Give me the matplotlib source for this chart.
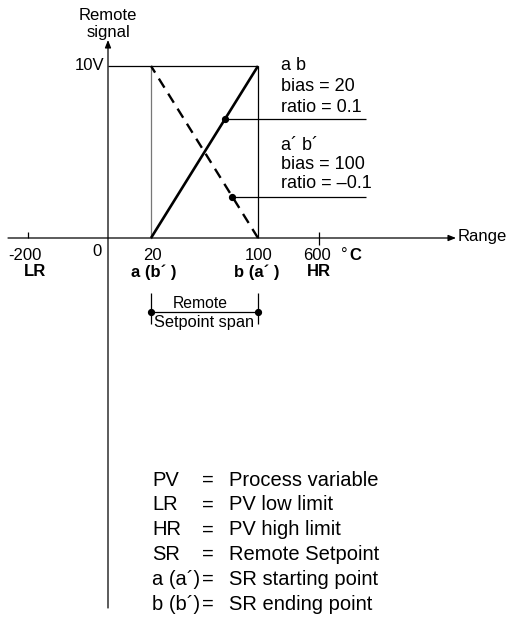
import matplotlib
matplotlib.use("Agg")
import matplotlib.pyplot as plt

plt.rcParams['font.family'] = ['Liberation Sans', 'DejaVu Sans']

# Remote setpoint mapping data
signal_min, signal_max = 0, 10          # remote signal, volts
full_scale = 800                        # signal full scale in counts
bias_ab, ratio_ab = 20, 0.1             # a -> b
bias_ab2, ratio_ab2 = 100, -0.1         # a' -> b'
sp_a, sp_b = 20, 100                    # remote setpoint span (deg C)

range_labels = ["-200", "0", "20", "100", "600"]
range_names = ["LR", "", "a (b\u00b4 )", "b (a\u00b4 )", "HR"]

legend_keys = ["PV", "LR", "HR", "SR", "a (a\u00b4)", "b (b\u00b4)"]
legend_vals = ["Process variable", "PV low limit", "PV high limit",
               "Remote Setpoint", "SR starting point", "SR ending point"]


def setpoint(v, bias, ratio):
    """Remote setpoint for a signal of v volts."""
    return bias + ratio * (v / signal_max) * full_scale


# ---- schematic layout (figure pixel space) ----
W, H = 509, 617
fig = plt.figure(figsize=(W / 100, H / 100), dpi=100)
ax = fig.add_axes([0, 0, 1, 1])
ax.set_xlim(0, W)
ax.set_ylim(H, 0)
ax.axis("off")

x0_axis = 108          # vertical axis position
y0_axis = 238          # horizontal axis position (0 V)
px_per_volt = 17.2
tick_x = [28, 97, 151, 258, 319]
x_of = {lab: x for lab, x in zip(range_labels, tick_x)}


def vy(v):
    return y0_axis - v * px_per_volt


xa, xb = x_of["20"], x_of["100"]


def sp_to_x(sp):
    return xa + (sp - sp_a) / (sp_b - sp_a) * (xb - xa)


k = dict(color="black", lw=0.9, solid_capstyle="butt")

# axes with arrowheads
ax.annotate("", xy=(x0_axis, 40), xytext=(x0_axis, 608),
            arrowprops=dict(arrowstyle="-|>,head_length=0.45,head_width=0.18",
                            color="black", lw=0.9, shrinkA=0, shrinkB=0))
ax.annotate("", xy=(456, y0_axis), xytext=(8, y0_axis),
            arrowprops=dict(arrowstyle="-|>,head_length=0.45,head_width=0.18",
                            color="black", lw=0.9, shrinkA=0, shrinkB=0))

# 10 V level and span verticals
ax.plot([x0_axis, xb], [vy(signal_max), vy(signal_max)], **k)
ax.plot([xa, xa], [vy(signal_min), vy(signal_max)], color="#777777", lw=0.9)
ax.plot([xb, xb], [vy(signal_min), vy(signal_max)], **k)

# a b (solid) and a' b' (dashed) lines
v_pts = [signal_min, signal_max]
ax.plot([sp_to_x(setpoint(v, bias_ab, ratio_ab)) for v in v_pts],
        [vy(v) for v in v_pts],
        color="black", lw=1.9, solid_capstyle="butt")
ax.plot([sp_to_x(setpoint(v, bias_ab2, ratio_ab2)) for v in v_pts],
        [vy(v) for v in v_pts],
        color="black", lw=1.7, dashes=(4.5, 3.0))

# callout leaders
v1 = 6.9
x1 = sp_to_x(setpoint(v1, bias_ab, ratio_ab))
ax.plot([x1, 366], [vy(v1), vy(v1)], **k)
ax.plot(x1, vy(v1), "o", color="black", ms=4.2)
v2 = 2.4
x2 = sp_to_x(setpoint(v2, bias_ab2, ratio_ab2))
ax.plot([x2, 366], [vy(v2), vy(v2)], **k)
ax.plot(x2, vy(v2), "o", color="black", ms=4.2)

# callout texts
fs_ann = 13
ann1 = ["a b", f"bias = {bias_ab}", f"ratio = {ratio_ab}"]
ann2 = ["a\u00b4 b\u00b4", f"bias = {bias_ab2}", f"ratio = \u2013{abs(ratio_ab2)}"]
for i, t in enumerate(ann1):
    ax.text(281, 66 + i * 20.5, t, fontsize=fs_ann, va="center", ha="left")
for i, t in enumerate(ann2):
    ax.text(281, 145 + i * 19.5, t, fontsize=fs_ann, va="center", ha="left")

# y axis labels
ax.text(x0_axis, 15, "Remote", fontsize=12, ha="center", va="center")
ax.text(x0_axis, 33, "signal", fontsize=12, ha="center", va="center")
ax.text(104, vy(signal_max), "10V", fontsize=12, ha="right", va="center")

# x ticks
ax.plot([x_of["-200"]] * 2, [232, y0_axis], **k)
ax.plot([x_of["600"]] * 2, [232, 245], **k)

label_dx = {"-200": -3, "20": 1, "100": 1, "600": -2}
name_dx = {"-200": 7, "20": 3, "100": -1, "600": 0}
for lab, name in zip(range_labels, range_names):
    x = x_of[lab]
    if lab == "0":
        ax.text(x, 252, lab, fontsize=12, ha="center", va="center")
        continue
    ax.text(x + label_dx[lab], 255, lab, fontsize=12, ha="center", va="center")
    ax.text(x + name_dx[lab], 272, name, fontsize=12, ha="center",
            va="center", fontweight="bold")
ax.text(341, 255, "\u00b0", fontsize=12, ha="left", va="center")
ax.text(349, 255, "C", fontsize=12, ha="left", va="center", fontweight="bold")
ax.text(458, y0_axis - 2, "Range", fontsize=12, ha="left", va="center")

# remote setpoint span bracket
ax.plot([xa, xa], [293, 324], **k)
ax.plot([xb, xb], [293, 324], **k)
ax.plot([xa, xb], [312, 312], **k)
ax.plot([xa, xb], [312, 312], "o", color="black", ms=4.2)
ax.text((xa + xb) / 2 - 4, 303, "Remote", fontsize=11.3, ha="center",
        va="center")
ax.text(xa + 3, 322, "Setpoint span", fontsize=11.8, ha="left", va="center")

# glossary
for i, (key, val) in enumerate(zip(legend_keys, legend_vals)):
    y = 480 + i * 24.9
    ax.text(152, y, key, fontsize=14.5, ha="left", va="center")
    ax.text(208, y, "=", fontsize=14.5, ha="center", va="center")
    ax.text(229, y, val, fontsize=14.5, ha="left", va="center")

fig.savefig("out.png", dpi=100)
